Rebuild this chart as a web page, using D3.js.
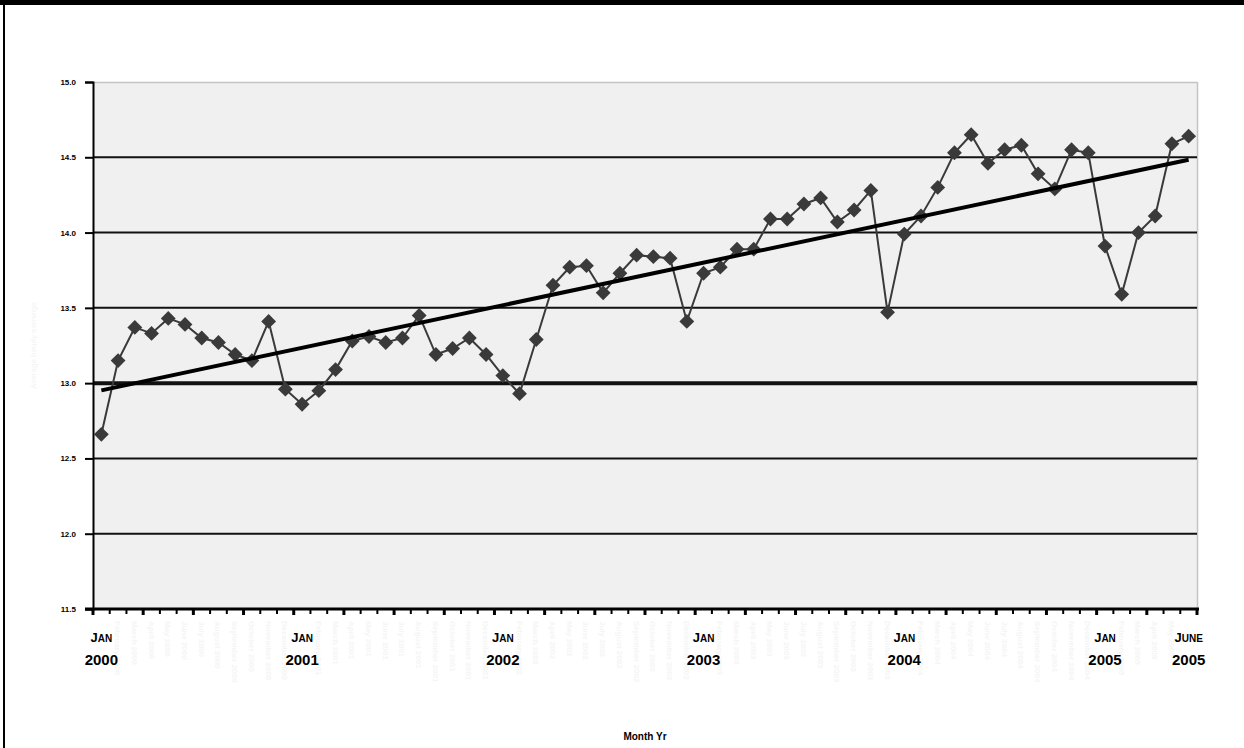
<!DOCTYPE html>
<html>
<head>
<meta charset="utf-8">
<script src="https://cdn.jsdelivr.net/npm/d3@7"></script>
<style>
  html, body { margin: 0; padding: 0; background: #fff; }
  svg { display: block; }
  text { font-family: "Liberation Sans", Arial, sans-serif; }
</style>
</head>
<body>
<svg id="chart" width="1244" height="748"></svg>
<script>
// Monthly values, Jan 2000 through June 2005
const monthNames = ["January","February","March","April","May","June","July","August","September","October","November","December"];
const startYear = 2000;
const values = [
  12.66, 13.15, 13.37, 13.33, 13.43, 13.39, 13.30, 13.27, 13.19, 13.15, 13.41, 12.96,
  12.86, 12.95, 13.09, 13.28, 13.31, 13.27, 13.30, 13.45, 13.19, 13.23, 13.30, 13.19,
  13.05, 12.93, 13.29, 13.65, 13.77, 13.78, 13.60, 13.73, 13.85, 13.84, 13.83, 13.41,
  13.73, 13.77, 13.89, 13.89, 14.09, 14.09, 14.19, 14.23, 14.07, 14.15, 14.28, 13.47,
  13.99, 14.11, 14.30, 14.53, 14.65, 14.46, 14.55, 14.58, 14.39, 14.29, 14.55, 14.53,
  13.91, 13.59, 14.00, 14.11, 14.59, 14.64
];
const yTicks = [11.5, 12.0, 12.5, 13.0, 13.5, 14.0, 14.5, 15.0];
const referenceLevel = 13.0;
// Bold labels under the axis: [index, month word, year]
const axisLabels = [
  [0, "Jan", "2000"], [12, "Jan", "2001"], [24, "Jan", "2002"], [36, "Jan", "2003"],
  [48, "Jan", "2004"], [60, "Jan", "2005"], [65, "June", "2005"]
];
const xTitle = "Month Yr";
const yTitle = "Average hourly earnings";

const svg = d3.select("#chart");
const W = 1244, H = 748;
const plot = { left: 93, right: 1197, top: 82, bottom: 609 };

// Frame
svg.append("rect").attr("x", 0).attr("y", 0).attr("width", W).attr("height", 5).attr("fill", "#000");
svg.append("rect").attr("x", 3).attr("y", 0).attr("width", 2).attr("height", H).attr("fill", "#000");

const idx = d3.range(values.length);
const xBand = d3.scaleBand().domain(idx).range([plot.left, plot.right]);
const x = i => xBand(i) + xBand.bandwidth() / 2;
const y = d3.scaleLinear().domain([11.5, 15.0]).range([plot.bottom, plot.top]);

// Plot background
svg.append("rect")
  .attr("x", plot.left).attr("y", plot.top)
  .attr("width", plot.right - plot.left).attr("height", plot.bottom - plot.top)
  .attr("fill", "#f0f0f0");
svg.append("line")
  .attr("x1", plot.left).attr("x2", plot.right).attr("y1", plot.top + 0.5).attr("y2", plot.top + 0.5)
  .attr("stroke", "#c4c4c4").attr("stroke-width", 1.5);
svg.append("line")
  .attr("x1", plot.right + 0.5).attr("x2", plot.right + 0.5).attr("y1", plot.top).attr("y2", plot.bottom)
  .attr("stroke", "#c4c4c4").attr("stroke-width", 1.5);

// Horizontal gridlines
svg.append("g").selectAll("line")
  .data(yTicks.filter(v => v > 11.5 && v < 15.0))
  .join("line")
  .attr("x1", plot.left).attr("x2", plot.right)
  .attr("y1", d => y(d)).attr("y2", d => y(d))
  .attr("stroke", "#111")
  .attr("stroke-width", d => d === referenceLevel ? 4 : 2);

// Y axis
const yAxis = svg.append("g")
  .attr("transform", `translate(${plot.left},0)`)
  .call(d3.axisLeft(y).tickValues(yTicks).tickSize(8).tickPadding(9).tickFormat(d3.format(".1f")));
yAxis.select(".domain").attr("stroke", "#000").attr("stroke-width", 2);
yAxis.selectAll(".tick line").attr("stroke", "#000").attr("stroke-width", 2);
yAxis.selectAll(".tick text")
  .attr("font-size", 8).attr("font-weight", "bold").attr("fill", "#000");

// X axis with a tick at every month boundary
const bounds = idx.map(i => xBand(i)).concat([plot.right]);
const xAxis = svg.append("g");
xAxis.append("line")
  .attr("x1", plot.left - 8).attr("x2", plot.right + 2)
  .attr("y1", plot.bottom).attr("y2", plot.bottom)
  .attr("stroke", "#000").attr("stroke-width", 3);
xAxis.selectAll("line.tk")
  .data(bounds)
  .join("line").attr("class", "tk")
  .attr("x1", d => d).attr("x2", d => d)
  .attr("y1", plot.bottom).attr("y2", (d, i) => plot.bottom + (i % 3 === 0 ? 6 : 5))
  .attr("stroke", "#000").attr("stroke-width", (d, i) => i % 3 === 0 ? 3 : 2);

// Faint month labels under every month
const labelled = new Set(axisLabels.map(d => d[0]));
svg.append("g").selectAll("text")
  .data(idx.filter(i => !labelled.has(i)))
  .join("text")
  .attr("transform", i => `translate(${x(i) - 3},${plot.bottom + 12}) rotate(90)`)
  .attr("font-size", 8).attr("font-weight", "bold").attr("fill", "#f5f5f5")
  .text(i => `${monthNames[i % 12]} ${startYear + Math.floor(i / 12)}`);

// Bold date labels
const lab = svg.append("g").selectAll("g").data(axisLabels).join("g")
  .attr("transform", d => `translate(${x(d[0])},0)`);
const mt = lab.append("text").attr("y", 642).attr("text-anchor", "middle")
  .attr("font-weight", "bold").attr("fill", "#000");
mt.append("tspan").attr("font-size", 13).text(d => d[1][0].toUpperCase());
mt.append("tspan").attr("font-size", 10).text(d => d[1].slice(1).toUpperCase());
lab.append("text").attr("y", 665).attr("text-anchor", "middle")
  .attr("font-size", 15).attr("font-weight", "bold").attr("fill", "#000")
  .text(d => d[2]);

// Axis titles
svg.append("text")
  .attr("x", (plot.left + plot.right) / 2).attr("y", 740)
  .attr("text-anchor", "middle").attr("font-size", 10).attr("font-weight", "bold").attr("fill", "#000")
  .text(xTitle);
svg.append("text")
  .attr("transform", `translate(36,${(plot.top + plot.bottom) / 2}) rotate(-90)`)
  .attr("text-anchor", "middle").attr("font-size", 8).attr("fill", "#f3f3f3")
  .text(yTitle);

// Data series
svg.append("path")
  .datum(values)
  .attr("fill", "none").attr("stroke", "#3a3a3a").attr("stroke-width", 2)
  .attr("d", d3.line().x((d, i) => x(i)).y(d => y(d)));

const marker = d3.symbol().type(d3.symbolSquare).size(110);
svg.append("g").selectAll("path")
  .data(values)
  .join("path")
  .attr("transform", (d, i) => `translate(${x(i)},${y(d)}) rotate(45)`)
  .attr("d", marker)
  .attr("fill", "#3a3a3a");

// Least-squares linear trend
const n = values.length;
const mx = d3.mean(idx), my = d3.mean(values);
const slope = d3.sum(idx, i => (i - mx) * (values[i] - my)) / d3.sum(idx, i => (i - mx) * (i - mx));
const intercept = my - slope * mx;
svg.append("line")
  .attr("x1", x(0)).attr("y1", y(intercept))
  .attr("x2", x(n - 1)).attr("y2", y(intercept + slope * (n - 1)))
  .attr("stroke", "#000").attr("stroke-width", 4);
</script>
</body>
</html>
